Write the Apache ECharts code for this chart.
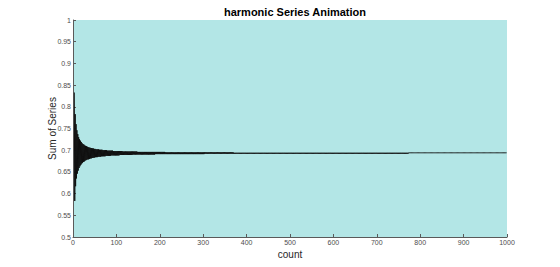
<!DOCTYPE html>
<html>
<head>
<meta charset="utf-8">
<script src="https://cdn.jsdelivr.net/npm/echarts@6/dist/echarts.min.js"></script>
<style>html,body{margin:0;padding:0;background:#fff}#c{width:560px;height:267px}</style>
</head>
<body>
<div id="c"></div>
<script>
const titleText = 'harmonic Series Animation';
const xName = 'count';
const yName = 'Sum of Series';
const xTicks = [0,100,200,300,400,500,600,700,800,900,1000];
const yTicks = [0.5,0.55,0.6,0.65,0.7,0.75,0.8,0.85,0.9,0.95,1];
const startCount = 3;
const sums = [
.833,.583,.783,.617,.760,.635,.746,.646,
.737,.653,.730,.659,.725,.663,.722,.666,.719,.669,
.716,.671,.714,.673,.713,.674,.711,.676,.710,.677,
.709,.678,.708,.679,.707,.679,.706,.680,.706,.681,
.705,.681,.705,.682,.704,.682,.704,.683,.703,.683,
.703,.684,.702,.684,.702,.684,.702,.685,.702,.685,
.701,.685,.701,.685,.701,.686,.701,.686,.700,.686,
.700,.686,.700,.686,.700,.687,.700,.687,.699,.687,
.699,.687,.699,.687,.699,.687,.699,.688,.699,.688,
.699,.688,.698,.688,.698,.688,.698,.688,.698,.688,
.698,.688,.698,.688,.698,.688,
.698,.689,.698,.689,.698,.689,.698,.689,
.697,.689,.697,.689,.697,.689,.697,.689,.697,.689,.697,.689,.697,.689,.697,.689,.697,.689,.697,.689,.697,.689,
.697,.690,.697,.690,.697,.690,.697,.690,.697,.690,.697,.690,
.696,.690,.696,.690,.696,.690,.696,.690,.696,.690,.696,.690,.696,.690,.696,.690,.696,.690,.696,.690,
.696,.690,.696,.690,.696,.690,.696,.690,.696,.690,.696,.690,.696,.690,.696,.690,.696,.690,.696,.690,
.696,.691,.696,.691,.696,.691,.696,.691,.696,.691,.696,.691,.696,.691,.696,.691,.696,.691,.696,.691,.696,.691,.696,.691,
.695,.691,.695,.691,.695,.691,.695,.691,.695,.691,.695,.691,.695,.691,.695,.691,.695,.691,.695,.691,
.695,.691,.695,.691,.695,.691,.695,.691,.695,.691,.695,.691,.695,.691,.695,.691,.695,.691,.695,.691,
.695,.691,.695,.691,.695,.691,.695,.691,.695,.691,.695,.691,.695,.691,.695,.691,.695,.691,.695,.691,
.695,.691,.695,.691,.695,.691,.695,.691,.695,.691,.695,.691,.695,.691,.695,.691,.695,.691,.695,.691,
.695,.691,.695,.691,.695,.691,.695,.691,.695,.691,
.695,.692,.695,.692,.695,.692,.695,.692,.695,.692,.695,.692,.695,.692,.695,.692,.695,.692,.695,.692,
.695,.692,.695,.692,.695,.692,.695,.692,.695,.692,.695,.692,.695,.692,.695,.692,.695,.692,.695,.692,
.695,.692,.695,.692,.695,.692,.695,.692,.695,.692,.695,.692,.695,.692,.695,.692,.695,.692,.695,.692,
.695,.692,.695,.692,.695,.692,.695,.692,
.694,.692,.694,.692,.694,.692,.694,.692,.694,.692,.694,.692,.694,.692,.694,.692,.694,.692,.694,.692,
.694,.692,.694,.692,.694,.692,.694,.692,.694,.692,.694,.692,.694,.692,.694,.692,.694,.692,.694,.692,
.694,.692,.694,.692,.694,.692,.694,.692,.694,.692,.694,.692,.694,.692,.694,.692,.694,.692,.694,.692,
.694,.692,.694,.692,.694,.692,.694,.692,.694,.692,.694,.692,.694,.692,.694,.692,.694,.692,.694,.692,
.694,.692,.694,.692,.694,.692,.694,.692,.694,.692,.694,.692,.694,.692,.694,.692,.694,.692,.694,.692,
.694,.692,.694,.692,.694,.692,.694,.692,.694,.692,.694,.692,.694,.692,.694,.692,.694,.692,.694,.692,
.694,.692,.694,.692,.694,.692,.694,.692,.694,.692,.694,.692,.694,.692,.694,.692,.694,.692,.694,.692,
.694,.692,.694,.692,.694,.692,.694,.692,.694,.692,.694,.692,.694,.692,.694,.692,.694,.692,.694,.692,
.694,.692,.694,.692,.694,.692,.694,.692,.694,.692,.694,.692,.694,.692,.694,.692,.694,.692,.694,.692,
.694,.692,.694,.692,.694,.692,.694,.692,.694,.692,.694,.692,.694,.692,.694,.692,.694,.692,.694,.692,
.694,.692,.694,.692,.694,.692,.694,.692,.694,.692,.694,.692,.694,.692,.694,.692,.694,.692,.694,.692,
.694,.692,.694,.692,.694,.692,.694,.692,.694,.692,.694,.692,.694,.692,.694,.692,.694,.692,.694,.692,
.694,.692,.694,.692,.694,.692,.694,.692,.694,.692,.694,.692,.694,.692,.694,.692,.694,.692,.694,.692,
.694,.692,.694,.692,.694,.692,.694,.692,.694,.692,.694,.692,.694,.692,.694,.692,.694,.692,.694,.692,
.694,.692,.694,.692,.694,.692,.694,.692,.694,.692,.694,.692,.694,.692,.694,.692,.694,.692,.694,.692,
.694,.692,.694,.692,.694,.692,.694,.692,.694,.692,.694,.692,.694,.692,.694,.692,.694,.692,.694,.692,
.694,.692,.694,.692,.694,.692,.694,.692,.694,.692,.694,.692,.694,.692,.694,.692,.694,.692,.694,.692,
.694,.692,.694,.692,.694,.692,.694,.692,.694,.692,.694,.692,.694,.692,.694,.692,.694,.692,.694,.692,
.694,.692,.694,.692,.694,.692,.694,.692,.694,.692,.694,.692,.694,.692,.694,.692,.694,.692,.694,.692,
.694,.692,.694,.692,.694,.692,.694,.692,.694,.692,.694,.692,.694,.692,.694,.692,.694,.692,.694,.692,
.694,.692,
.694,.693,.694,.693,.694,.693,.694,.693,.694,.693,.694,.693,.694,.693,.694,.693,.694,.693,.694,.693,
.694,.693,.694,.693,.694,.693,.694,.693,.694,.693,.694,.693,.694,.693,.694,.693,.694,.693,.694,.693,
.694,.693,.694,.693,.694,.693,.694,.693,.694,.693,.694,.693,.694,.693,.694,.693,.694,.693,.694,.693,
.694,.693,.694,.693,.694,.693,.694,.693,.694,.693,.694,.693,.694,.693,.694,.693,.694,.693,.694,.693,
.694,.693,.694,.693,.694,.693,.694,.693,.694,.693,.694,.693,.694,.693,.694,.693,.694,.693,.694,.693,
.694,.693,.694,.693,.694,.693,.694,.693,.694,.693,.694,.693,.694,.693,.694,.693,.694,.693,.694,.693,
.694,.693,.694,.693,.694,.693,.694,.693,.694,.693,.694,.693,.694,.693,.694,.693,.694,.693,.694,.693,
.694,.693,.694,.693,.694,.693,.694,.693,.694,.693,.694,.693,.694,.693,.694,.693,.694,.693,.694,.693,
.694,.693,.694,.693,.694,.693,.694,.693,.694,.693,.694,.693,.694,.693,.694,.693,.694,.693,.694,.693,
.694,.693,.694,.693,.694,.693,.694,.693,.694,.693,.694,.693,.694,.693,.694,.693,.694,.693,.694,.693,
.694,.693,.694,.693,.694,.693,.694,.693,.694,.693,.694,.693,.694,.693,.694,.693,.694,.693,.694,.693,
.694,.693,.694,.693,.694,.693,.694,.693
];

const chart = echarts.init(document.getElementById('c'), null, {renderer: 'svg'});
const font = 'Liberation Sans, Arial, Helvetica, sans-serif';
const axisColor = '#5a5a5a';
chart.setOption({
  animation: false,
  backgroundColor: '#ffffff',
  title: {
    text: titleText,
    left: 290, top: 1, textAlign: 'center',
    textStyle: {fontFamily: font, fontSize: 11, fontWeight: 'bold', color: '#000'}
  },
  grid: {
    left: 73, right: 53, top: 20, bottom: 30,
    show: true, backgroundColor: '#b3e6e6', borderWidth: 0
  },
  xAxis: {
    type: 'value',
    min: xTicks[0], max: xTicks[xTicks.length - 1], interval: xTicks[1] - xTicks[0],
    name: xName, nameLocation: 'middle', nameGap: 12, nameMoveOverlap: false,
    nameTextStyle: {fontFamily: font, fontSize: 10, color: '#262626'},
    axisLine: {show: true, onZero: false, lineStyle: {color: axisColor, width: 1}},
    axisTick: {show: true, inside: true, length: 3, lineStyle: {color: axisColor}},
    axisLabel: {fontFamily: font, fontSize: 7, color: '#4d4d4d', margin: 2,
      formatter: v => String(v)},
    splitLine: {show: false}
  },
  yAxis: {
    type: 'value',
    min: yTicks[0], max: yTicks[yTicks.length - 1], interval: 0.05,
    name: yName, nameLocation: 'middle', nameGap: 16, nameRotate: 90, nameMoveOverlap: false,
    nameTextStyle: {fontFamily: font, fontSize: 10, color: '#262626'},
    axisLine: {show: true, onZero: false, lineStyle: {color: axisColor, width: 1}},
    axisTick: {show: true, inside: true, length: 3, lineStyle: {color: axisColor}},
    axisLabel: {fontFamily: font, fontSize: 7, color: '#4d4d4d', margin: 2},
    splitLine: {show: false}
  },
  series: [{
    type: 'line',
    data: sums.map((v, i) => [startCount + i, v]),
    symbol: 'none',
    lineStyle: {color: '#111111', width: 1},
    clip: true
  }]
});
</script>
</body>
</html>
